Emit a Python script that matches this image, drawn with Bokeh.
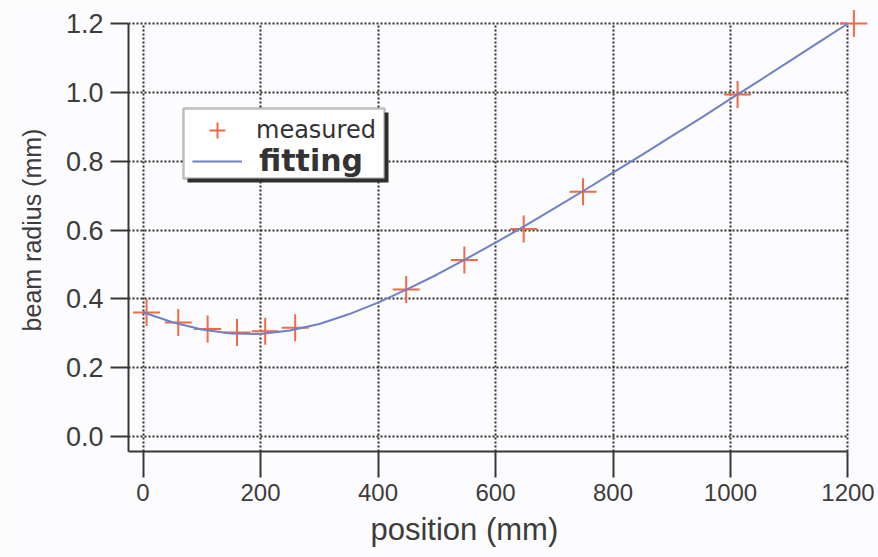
from bokeh.plotting import figure
from bokeh.models import (Range1d, FixedTicker, PrintfTickFormatter, Legend,
                          LegendItem, BoxAnnotation, Title)
from bokeh.embed import file_html
from bokeh.resources import INLINE

# Measured beam radius along the propagation axis
position_mm = [6, 60, 110, 160, 208, 259, 448, 547, 648, 749, 1012, 1210]
radius_mm = [0.360, 0.331, 0.312, 0.302, 0.306, 0.316,
             0.427, 0.513, 0.603, 0.711, 0.994, 1.200]

# Fitted Gaussian-beam envelope, sampled every 50 mm
fit_position_mm = [0, 50, 100, 150, 200, 250, 300, 350, 400, 450, 500, 550,
                   600, 650, 700, 750, 800, 850, 900, 950, 1000, 1050, 1100,
                   1150, 1200]
fit_radius_mm = [0.361, 0.332, 0.311, 0.299, 0.298, 0.308, 0.327, 0.355,
                 0.389, 0.428, 0.470, 0.516, 0.563, 0.612, 0.663, 0.714,
                 0.767, 0.819, 0.873, 0.926, 0.981, 1.035, 1.090, 1.145,
                 1.200]

x_ticks = [0, 200, 400, 600, 800, 1000, 1200]
y_ticks = [0.0, 0.2, 0.4, 0.6, 0.8, 1.0, 1.2]

BG = "#fcfbfe"
INK = "#363636"
TEXT = "#3c3c3c"
MARK = "#ef6a45"
FIT = "#6f80c6"

X0, X1 = -24.7, 1238.3
Y0, Y1 = -0.0436, 1.2436

p = figure(width=878, height=557,
           x_range=Range1d(X0, X1), y_range=Range1d(Y0, Y1),
           output_backend="svg", toolbar_location=None,
           min_border_left=128, min_border_right=8,
           min_border_top=8, min_border_bottom=106,
           background_fill_color=BG, border_fill_color=BG,
           outline_line_color=None)

# dotted grid, confined to the axis span
p.xgrid.ticker = FixedTicker(ticks=x_ticks)
p.ygrid.ticker = FixedTicker(ticks=y_ticks)
p.xgrid.cross_bounds = (Y0, y_ticks[-1])
p.ygrid.cross_bounds = (X0, x_ticks[-1])
for g in (p.xgrid[0], p.ygrid[0]):
    g.grid_line_color = "#2e2e2e"
    g.grid_line_dash = "2 2"
    g.grid_line_width = 2

# axes
xa = p.xaxis[0]
ya = p.yaxis[0]
xa.ticker = FixedTicker(ticks=x_ticks)
ya.ticker = FixedTicker(ticks=y_ticks)
ya.formatter = PrintfTickFormatter(format="%.1f")
xa.bounds = (X0, x_ticks[-1])
ya.bounds = (Y0, y_ticks[-1])
for ax in (xa, ya):
    ax.axis_line_width = 2
    ax.axis_line_color = INK
    ax.major_tick_line_width = 2
    ax.major_tick_line_color = INK
    ax.major_tick_in = 0
    ax.minor_tick_in = 0
    ax.minor_tick_out = 0
    ax.major_label_text_color = TEXT
    ax.major_label_text_font = "Liberation Sans"
    ax.axis_label_text_font = "Liberation Sans"
    ax.axis_label_text_font_style = "normal"
    ax.axis_label_text_color = TEXT

xa.major_tick_out = 26
xa.major_label_standoff = 6
xa.major_label_text_font_size = "24px"

ya.major_tick_out = 18
ya.major_label_standoff = 7
ya.major_label_text_font_size = "27px"
ya.axis_label = "beam radius (mm)"
ya.axis_label_text_font_size = "25px"
ya.axis_label_standoff = 17

# x-axis title, set under the 0-1200 span rather than the whole frame
p.add_layout(Title(text="position (mm)", align="left", offset=242,
                   standoff=16, vertical_align="top",
                   text_font="Liberation Sans",
                   text_font_size="31px", text_font_style="normal",
                   text_color=TEXT), "below")

# data
sc = p.scatter(position_mm, radius_mm, marker="cross", size=27,
               line_color=MARK, line_width=2)
ln = p.line(fit_position_mm, fit_radius_mm, line_color=FIT, line_width=2)

# legend frame with drop shadow
shadow = BoxAnnotation(left=75.7, right=417.9, top=0.9414, bottom=0.738,
                       fill_color="#2e2e2e", fill_alpha=1, line_color=None)
frame = BoxAnnotation(left=68.9, right=411.1, top=0.953, bottom=0.7496,
                      fill_color="white", fill_alpha=1,
                      line_color="#2e2e2e", line_width=2.5)
p.add_layout(shadow)
p.add_layout(frame)

common = dict(padding=0, spacing=0, margin=0, border_line_color=None,
              background_fill_alpha=0, glyph_width=50,
              label_text_color="#333333")
leg1 = Legend(items=[LegendItem(label="measured", renderers=[sc])],
              location=(64, 301), glyph_height=40, label_height=40,
              label_standoff=14,
              label_text_font="DejaVu Sans", label_text_font_size="24px",
              **common)
leg2 = Legend(items=[LegendItem(label="fitting", renderers=[ln])],
              location=(64, 273), glyph_height=32, label_height=32,
              label_standoff=17,
              label_text_font="DejaVu Sans", label_text_font_size="30px",
              label_text_font_style="bold", **common)
p.add_layout(leg1)
p.add_layout(leg2)

open("out.html", "w").write(file_html(p, INLINE))
